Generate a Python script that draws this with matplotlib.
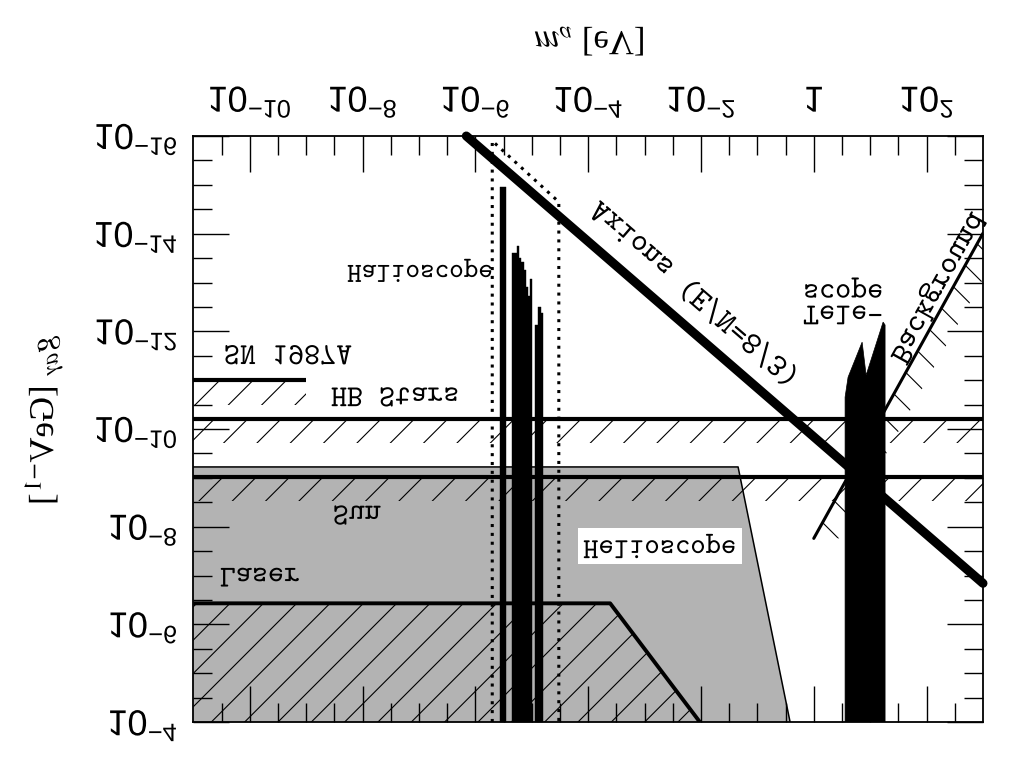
import numpy as np
import matplotlib
matplotlib.use('Agg')
import matplotlib.pyplot as plt
from matplotlib.patheffects import AbstractPathEffect
from matplotlib.transforms import Affine2D

# ---------------- data (log10 values) ----------------
x_major_exp = [-10, -8, -6, -4, -2, 0, 2]
x_tick_labels = [r'$10^{-10}$', r'$10^{-8}$', r'$10^{-6}$', r'$10^{-4}$',
                 r'$10^{-2}$', r'$1$', r'$10^{2}$']
y_major_exp = [-16, -14, -12, -10, -8, -6, -4]
y_tick_labels = [r'$10^{-16}$', r'$10^{-14}$', r'$10^{-12}$', r'$10^{-10}$',
                 r'$10^{-8}$', r'$10^{-6}$', r'$10^{-4}$']

# Axion line (E/N = 8/3)
axion_logm = [-6.16, 3.0]
axion_logg = [-16.0, -6.84]

# dotted axion window
window_logm = [-5.70, -5.70, -4.52, -4.52]
window_logg = [-4.0, -15.90, -14.65, -4.0]

# halioscope exclusions
halo_logm_lo = [-5.562, -5.349, -5.261, -5.225, -5.190, -5.137, -5.101,
                -5.066, -5.030, -4.942, -4.888, -4.835]
halo_logm_hi = [-5.456, -5.261, -5.225, -5.190, -5.137, -5.101, -5.066,
                -5.030, -4.995, -4.888, -4.835, -4.800]
halo_logg_top = [-14.955, -13.602, -13.746, -13.500, -13.418, -13.254,
                 -12.906, -12.721, -13.070, -12.127, -12.496, -12.373]

# telescope exclusion
tele_logm = [0.555, 0.555, 0.608, 0.857, 0.928, 1.229, 1.264, 1.264]
tele_logg = [-4.0, -10.652, -11.061, -11.779, -11.102, -12.189, -12.13, -4.0]

# background line
bkg_logm = [0.0, 3.0]
bkg_logg = [-7.76, -14.01]
bkg_band = 0.45  # hatched width (decades in mass)

# astrophysical bounds
sn_logm = [-11.0, -9.0]
sn_logg = -11.0
hb_logg = -10.215
sun_logg = -9.02
band_width = 0.5

# helioscope (gray) region
helio_logm = [-11.0, -1.342, -0.42, -11.0]
helio_logg = [-9.223, -9.223, -4.0, -4.0]

# laser region
laser_logm = [-11.0, -3.61, -2.02]
laser_logg = [-6.43, -6.43, -4.0]

XLIM = (1e-11, 1e3)
YLIM = (1e-4, 1e-16)


# ---------------- vertical glyph flip ----------------
class VFlip(AbstractPathEffect):
    def __init__(self, yc=None):
        super().__init__()
        self.yc = yc

    def draw_path(self, renderer, gc, tpath, affine, rgbFace=None):
        if self.yc is None:
            ext = tpath.get_extents()
            c = 0.5 * (ext.y0 + ext.y1)
        else:
            c = self.yc * 100.0
        flip = Affine2D().translate(0, -c).scale(1, -1).translate(0, c)
        renderer.draw_path(gc, tpath, flip + affine, rgbFace)


plt.rcParams.update({
    'mathtext.fontset': 'custom',
    'mathtext.rm': 'Liberation Sans',
    'mathtext.it': 'Liberation Sans:italic',
    'mathtext.bf': 'Liberation Sans:bold',
    'mathtext.sf': 'Liberation Sans',
    'font.family': ['Liberation Sans', 'DejaVu Sans'],
    'hatch.linewidth': 0.8,
    'hatch.color': 'black',
})

p10 = lambda a: np.power(10.0, np.asarray(a, dtype=float))

fig = plt.figure(figsize=(10.24, 7.57), dpi=100, facecolor='white')
ax = fig.add_axes([193.3 / 1024, 1 - 722 / 757, (983 - 193.3) / 1024, (722 - 136) / 757])
ax.set_xscale('log')
ax.set_yscale('log')
ax.set_xlim(*XLIM)
ax.set_ylim(*YLIM)

# helioscope gray region
ax.fill(p10(helio_logm), p10(helio_logg), facecolor='#b3b3b3', edgecolor='none', zorder=1)
ax.plot(p10(helio_logm[:3]), p10(helio_logg[:3]), color='black', lw=1.1, zorder=2)

# laser hatched region
ax.fill(p10(laser_logm + [-11.0]), p10(laser_logg + [-4.0]), facecolor='none',
        edgecolor='black', hatch='/', lw=0, zorder=2)
ax.plot(p10(laser_logm), p10(laser_logg), color='black', lw=2.8, zorder=4,
        solid_capstyle='butt')

# hatched bands
def band(m0, m1, g0, w):
    ax.fill(p10([m0, m1, m1, m0]), p10([g0, g0, g0 + w, g0 + w]), facecolor='none',
            edgecolor='black', hatch='/', lw=0, zorder=2)
    ax.plot(p10([m0, m1]), p10([g0, g0]), color='black', lw=3.0, zorder=4,
            solid_capstyle='butt')

band(sn_logm[0], sn_logm[1], sn_logg, band_width)
band(-11.0, 3.0, hb_logg, band_width)
band(-11.0, 3.0, sun_logg, band_width)

# background
ax.fill(p10([bkg_logm[0], bkg_logm[1], bkg_logm[1] + bkg_band, bkg_logm[0] + bkg_band]),
        p10([bkg_logg[0], bkg_logg[1], bkg_logg[1], bkg_logg[0]]),
        facecolor='none', edgecolor='black', hatch='\\', lw=0, zorder=2)
ax.plot(p10(bkg_logm), p10(bkg_logg), color='black', lw=2.2, zorder=4,
        solid_capstyle='round')

# dotted window
ax.plot(p10(window_logm), p10(window_logg), color='black', lw=2.2,
        linestyle=(0, (1, 1.9)), zorder=5)

# halioscope bars
for lo, hi, top in zip(halo_logm_lo, halo_logm_hi, halo_logg_top):
    ax.fill_between(p10([lo, hi]), p10([top, top]), 1e-4, facecolor='black',
                    edgecolor='black', lw=0.3, zorder=6)

# telescope
ax.fill(p10(tele_logm), p10(tele_logg), facecolor='black', edgecolor='black',
        lw=0.5, zorder=6)

# axion line
ax.plot(p10(axion_logm), p10(axion_logg), color='black', lw=6.5,
        solid_capstyle='round', zorder=7, clip_on=False)

# ---------------- ticks ----------------
ax.set_xticks(p10(x_major_exp))
ax.set_xticklabels(x_tick_labels)
ax.set_yticks(p10(y_major_exp))
ax.set_yticklabels(y_tick_labels)
xmin = [e for e in np.arange(-11, 3.01, 0.5) if e not in x_major_exp and -11 < e < 3]
ymin = [e for e in np.arange(-16, -3.99, 0.5) if e not in y_major_exp and -16 < e < -4]
ax.set_xticks(p10(xmin), minor=True)
ax.set_yticks(p10(ymin), minor=True)
ax.xaxis.set_minor_formatter(plt.NullFormatter())
ax.yaxis.set_minor_formatter(plt.NullFormatter())
ax.tick_params(which='both', direction='in', top=True, bottom=True, left=True,
               right=True, labeltop=True, labelbottom=False, labelleft=True,
               labelright=False, width=1.0, color='black')
ax.tick_params(which='major', length=26)
ax.tick_params(which='minor', length=13.5)
ax.tick_params(axis='x', which='major', pad=11, labelsize=26)
ax.tick_params(axis='y', which='major', pad=11, labelsize=26)
for sp in ax.spines.values():
    sp.set_linewidth(1.3)

for tk in ax.xaxis.get_major_ticks():
    tk.label2.set_path_effects([VFlip(0.36)])
for tk in ax.yaxis.get_major_ticks():
    tk.label1.set_path_effects([VFlip(0.36)])

# axis labels
ax.xaxis.set_label_position('top')
xl = ax.set_xlabel(r'$m_a$ [eV]', fontsize=25, family='Liberation Serif',
                   math_fontfamily='stix')
xl.set_path_effects([VFlip(0.33)])
ax.xaxis.set_label_coords(0.502, 1.155)
xl.set_va('center')
yl = ax.set_ylabel(r'$g_{a\gamma}$ [GeV$^{-1}$]', fontsize=25, family='Liberation Serif',
                   math_fontfamily='stix', rotation=270)
yl.set_path_effects([VFlip(0.33)])
ax.yaxis.set_label_coords(-0.194, 0.515)
yl.set_va('center')
yl.set_ha('center')


# ---------------- annotations ----------------
def ftext(lm, lg, s, size, rot=0.0, **kw):
    t = ax.text(p10(lm), p10(lg), s, fontsize=size, rotation=rot, ha='center',
                va='center', rotation_mode='anchor', family='cmtt10', zorder=9, **kw)
    t.set_path_effects([VFlip()])
    return t

ftext(-9.32, -11.45, 'SN 1987A', 22)
ftext(-7.42, -10.59, 'HB Stars', 22)
ftext(-8.10, -8.17, 'Sun', 22)
ftext(-9.82, -6.90, 'Laser', 22)
ftext(-6.98, -13.25, 'Halioscope', 20)
ftext(-2.73, -7.60, 'Helioscope', 21,
      bbox=dict(facecolor='white', edgecolor='none', pad=4))
ftext(0.52, -12.27, 'Tele-', 22)
ftext(0.52, -12.95, 'scope', 22)
ftext(2.17, -12.91, 'Background', 23, rot=60.87)
ftext(-2.16, -12.70, 'Axions (E/N=8/3)', 23, rot=-40.85)

fig.savefig('out.png', dpi=100, facecolor='white')
